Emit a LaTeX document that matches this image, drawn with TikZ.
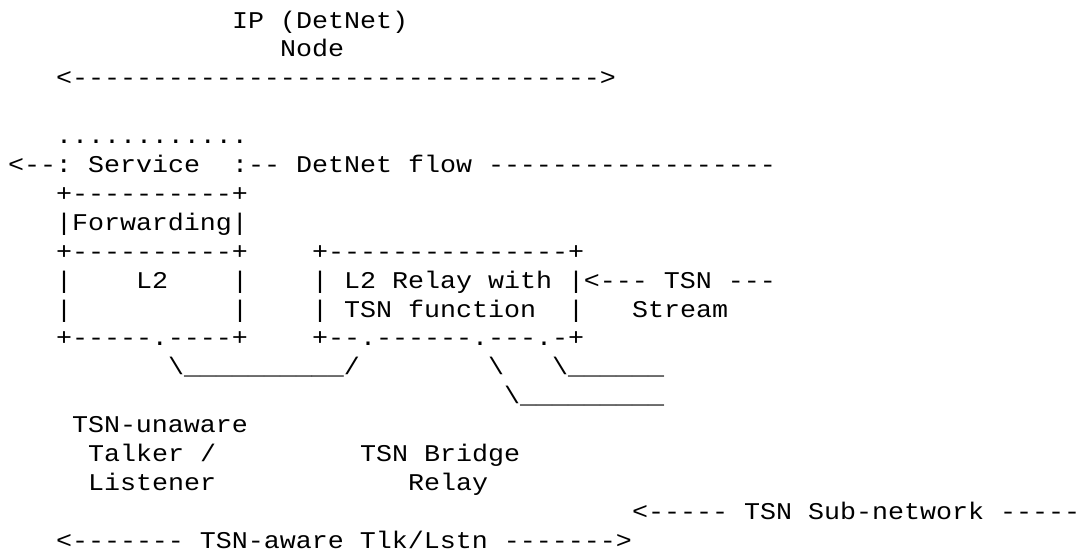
\documentclass[tikz,border=0pt]{standalone}
\usepackage{fontspec}
\setmonofont{Liberation Mono}[FakeStretch=1.1111]
\tikzset{
  asc/.style={anchor=base west, inner sep=0pt, outer sep=0pt,
    font=\ttfamily\fontsize{18pt}{22pt}\selectfont, text=black}
}
\begin{document}
\begin{tikzpicture}[x=12pt, y=-21.675pt]
\useasboundingbox[fill=white] (-6pt,21pt) rectangle (803.25pt,-396.75pt);
% row 0-2: IP node header
\node[asc] (ip)    at (14,0) {IP (DetNet)};
\node[asc] (node)  at (17,1) {Node};
\node[asc] (iparr) at (3,2)  {<--------------------------------->};
% row 4-5: service sub-layer
\node[asc] (dots)  at (3,4)  {............};
\node[asc] (svcl)  at (0,5)  {<--:};
\node[asc] (svc)   at (5,5)  {Service};
\node[asc] (flow)  at (14,5) {:-- DetNet flow ------------------};
% forwarding box
\node[asc] (fwt)   at (3,6)  {+----------+};
\node[asc] (fw)    at (3,7)  {|Forwarding|};
\node[asc] (fwb)   at (3,8)  {+----------+};
% L2 box
\node[asc] (l2l1)  at (3,9)  {|};
\node[asc] (l2)    at (8,9)  {L2};
\node[asc] (l2r1)  at (14,9) {|};
\node[asc] (l2l2)  at (3,10) {|};
\node[asc] (l2r2)  at (14,10){|};
\node[asc] (l2b)   at (3,11) {+-----.----+};
% relay box
\node[asc] (rlt)   at (19,8) {+---------------+};
\node[asc] (rl1)   at (19,9) {| L2 Relay with |<--- TSN ---};
\node[asc] (rl2)   at (19,10){| TSN function};
\node[asc] (rl2r)  at (35,10){|};
\node[asc] (strm)  at (39,10){Stream};
\node[asc] (rlb)   at (19,11){+--.------.---.-+};
% links
\node[asc] (lk1)   at (10,12){\textbackslash\_\_\_\_\_\_\_\_\_\_/};
\node[asc] (lk2)   at (30,12){\textbackslash};
\node[asc] (lk3)   at (34,12){\textbackslash\_\_\_\_\_\_};
\node[asc] (lk4)   at (31,13){\textbackslash\_\_\_\_\_\_\_\_\_};
% labels
\node[asc] (una)   at (4,14) {TSN-unaware};
\node[asc] (tlk)   at (5,15) {Talker /};
\node[asc] (lst)   at (5,16) {Listener};
\node[asc] (brg)   at (22,15){TSN Bridge};
\node[asc] (rly)   at (25,16){Relay};
\node[asc] (sub)   at (39,17){<----- TSN Sub-network -----};
\node[asc] (aware) at (3,18) {<------- TSN-aware Tlk/Lstn ------->};
\end{tikzpicture}
\end{document}
